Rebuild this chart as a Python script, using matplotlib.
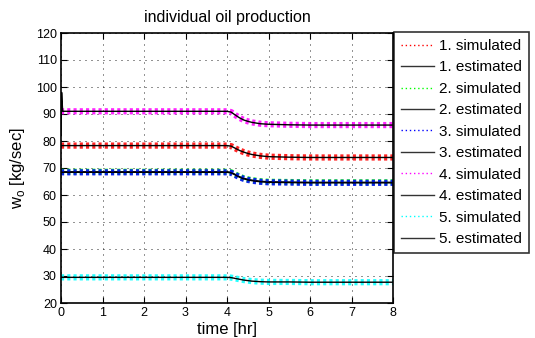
import matplotlib
matplotlib.use("Agg")
import matplotlib.pyplot as plt
import numpy as np

plt.rcParams['font.family'] = ['Liberation Sans', 'DejaVu Sans']

# time grid (hr)
t = [0, 0.5, 1, 1.5, 2, 2.5, 3, 3.5, 4.0, 4.1, 4.2, 4.3, 4.4, 4.5, 4.6, 4.8, 5.0, 5.5, 6, 6.5, 7, 7.5, 8]

# readings (kg/sec) per well
w1 = [78.3, 78.3, 78.3, 78.3, 78.3, 78.3, 78.3, 78.3, 78.3, 78.1, 77.3, 76.5, 75.9, 75.4, 75.0, 74.5, 74.2, 74.0, 73.9, 73.9, 73.9, 73.9, 73.9]
w2 = [68.6, 68.6, 68.6, 68.6, 68.6, 68.6, 68.6, 68.6, 68.6, 68.4, 67.6, 66.8, 66.2, 65.8, 65.5, 65.1, 64.9, 64.8, 64.7, 64.7, 64.7, 64.7, 64.7]
w3 = [68.4, 68.4, 68.4, 68.4, 68.4, 68.4, 68.4, 68.4, 68.4, 68.2, 67.4, 66.6, 66.0, 65.6, 65.3, 64.9, 64.7, 64.6, 64.5, 64.5, 64.5, 64.5, 64.5]
w4 = [91.0, 91.0, 91.0, 91.0, 91.0, 91.0, 91.0, 91.0, 91.0, 90.7, 89.6, 88.6, 87.8, 87.3, 86.9, 86.4, 86.2, 86.0, 85.9, 85.9, 85.9, 85.9, 85.9]
w5 = [29.5, 29.5, 29.5, 29.5, 29.5, 29.5, 29.5, 29.5, 29.5, 29.4, 29.1, 28.8, 28.5, 28.3, 28.1, 27.9, 27.8, 27.8, 27.7, 27.7, 27.7, 27.7, 27.7]

# start-up transient of the estimator for well 4
t4_start = [0, 0.015, 0.04]
w4_start = [82, 98, 91]

series = [w1, w2, w3, w4, w5]
colors = ['#ff0000', '#00ff00', '#0000ff', '#ff00ff', '#00ffff']
labels = ['1', '2', '3', '4', '5']

fig = plt.figure(figsize=(5.35, 3.38), dpi=100)
ax = fig.add_axes([61/535, 1-303/338, 332/535, 270/338])

handles = []
for w, c, lab in zip(series, colors, labels):
    hs, = ax.plot(t, w, linestyle=(0, (0.5, 0.5)), color=c, lw=4.5, alpha=0.85,
                  label=f'{lab}. simulated')
    if lab == '4':
        ax.plot(t4_start + t[1:], w4_start + w[1:], color='black', lw=1.0)
        he, = ax.plot([], [], color='black', lw=1.0, label=f'{lab}. estimated')
    else:
        he, = ax.plot(t, w, color='black', lw=1.0, label=f'{lab}. estimated')
    handles += [hs, he]

ax.set_xlim(0, 8)
ax.set_ylim(20, 120)
ax.set_xticks(range(0, 9))
ax.set_yticks(range(20, 121, 10))
ax.grid(True, linestyle=(0, (1.2, 6)), color='black', lw=0.6)
ax.tick_params(direction='in', top=True, right=True, labelsize=9, length=4, pad=3)
for s in ax.spines.values():
    s.set_linewidth(1.2)

ax.set_title('individual oil production', fontsize=11.5, pad=8)
ax.set_xlabel('time [hr]', fontsize=12, labelpad=2)
ax.set_ylabel(r'w$_\mathregular{o}$ [kg/sec]', fontsize=12, labelpad=6)

# legend handles: thin dotted for simulated
leg_handles = []
for i, h in enumerate(handles):
    if i % 2 == 0:
        lh = plt.Line2D([], [], color=h.get_color(), linestyle=(0, (1, 2)), lw=1.0)
    else:
        lh = plt.Line2D([], [], color='#333333', lw=1.0)
    leg_handles.append(lh)

leg = fig.legend(leg_handles, [h.get_label() for h in handles], loc='upper left',
                 bbox_to_anchor=(394/535, 1-32/338), borderaxespad=0,
                 fontsize=11, frameon=True, fancybox=False, edgecolor='black',
                 labelspacing=0.49, handlelength=2.15, handletextpad=0.33,
                 borderpad=0.45)
leg.get_frame().set_linewidth(1.2)

fig.savefig('out.png', dpi=100)
